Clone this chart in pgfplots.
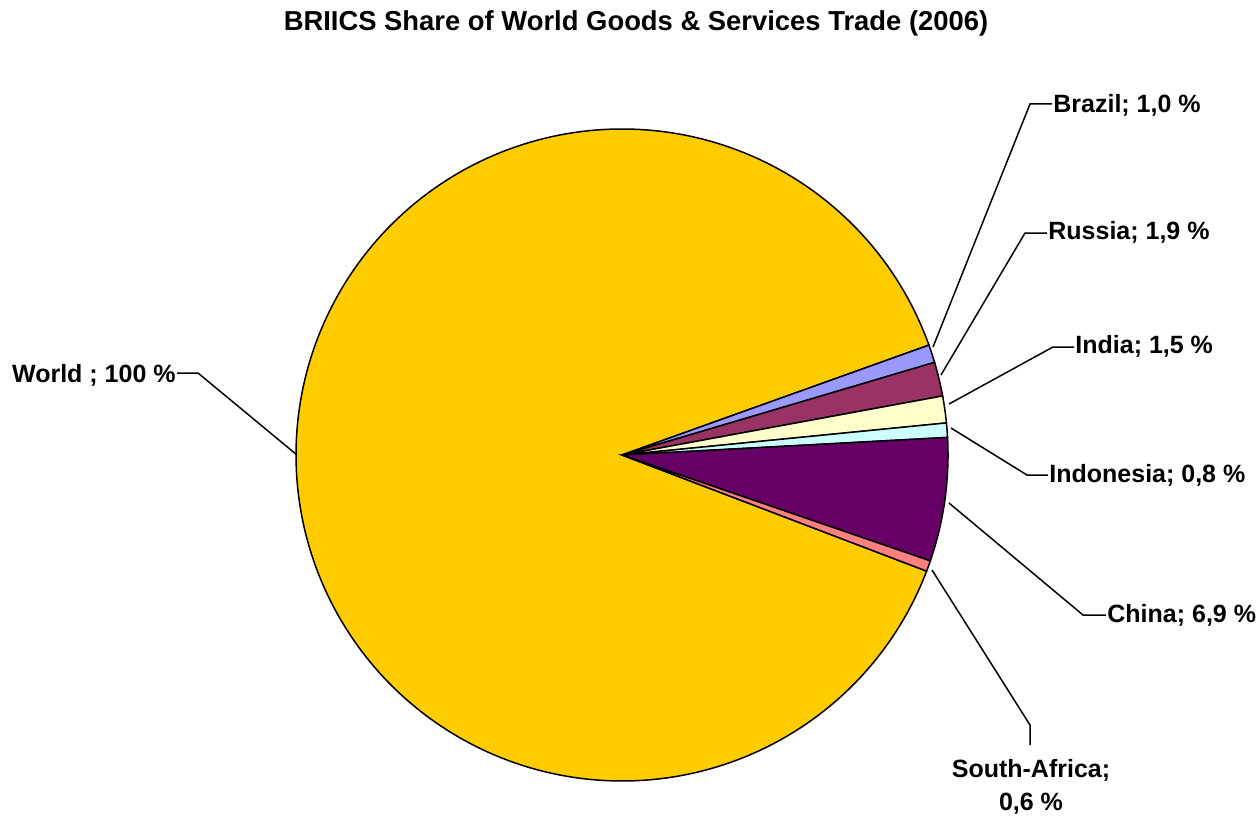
\documentclass[border=0pt]{standalone}
\usepackage{pgfplots}
\pgfplotsset{compat=1.18}
\usepgfplotslibrary{polar}
\usepackage{fontspec}
\setmainfont{Liberation Sans}
\definecolor{cWorld}{HTML}{FFCC00}
\definecolor{cBrazil}{HTML}{9999FF}
\definecolor{cRussia}{HTML}{993366}
\definecolor{cIndia}{HTML}{FFFFCC}
\definecolor{cIndonesia}{HTML}{CCFFFF}
\definecolor{cChina}{HTML}{660066}
\definecolor{cSA}{HTML}{FF8080}
% data (share of world goods & services trade, %)
\def\vWorld{100}
\def\vBrazil{1.0}
\def\vRussia{1.9}
\def\vIndia{1.5}
\def\vIndonesia{0.8}
\def\vChina{6.9}
\def\vSA{0.6}
\def\sAng{19.7}
\begin{document}
\begin{tikzpicture}[x=0.5pt,y=0.5pt]
\path (0,0) rectangle (1259,816);
\pgfmathsetmacro\k{360/(\vWorld+\vBrazil+\vRussia+\vIndia+\vIndonesia+\vChina+\vSA)}
\pgfmathsetmacro\aWorld{\sAng+\vWorld*\k}
\pgfmathsetmacro\aBrazil{\sAng-\vBrazil*\k}
\pgfmathsetmacro\aRussia{\aBrazil-\vRussia*\k}
\pgfmathsetmacro\aIndia{\aRussia-\vIndia*\k}
\pgfmathsetmacro\aIndonesia{\aIndia-\vIndonesia*\k}
\pgfmathsetmacro\aChina{\aIndonesia-\vChina*\k}
\pgfmathsetmacro\aSA{\aChina-\vSA*\k}
\begin{polaraxis}[at={(622,361)}, anchor=center, width=326pt, height=326pt,
  scale only axis, hide axis, clip=false, xmin=0, xmax=360, ymin=0, ymax=326]
\addplot[fill=cWorld, draw=black, line width=0.75pt, domain=\sAng:\aWorld, samples=240] {326} -- (axis cs:0,0) -- cycle;
\addplot[fill=cBrazil, draw=black, line width=0.75pt, domain=\aBrazil:\sAng, samples=8] {326} -- (axis cs:0,0) -- cycle;
\addplot[fill=cRussia, draw=black, line width=0.75pt, domain=\aRussia:\aBrazil, samples=10] {326} -- (axis cs:0,0) -- cycle;
\addplot[fill=cIndia, draw=black, line width=0.75pt, domain=\aIndia:\aRussia, samples=10] {326} -- (axis cs:0,0) -- cycle;
\addplot[fill=cIndonesia, draw=black, line width=0.75pt, domain=\aIndonesia:\aIndia, samples=8] {326} -- (axis cs:0,0) -- cycle;
\addplot[fill=cChina, draw=black, line width=0.75pt, domain=\aChina:\aIndonesia, samples=30] {326} -- (axis cs:0,0) -- cycle;
\addplot[fill=cSA, draw=black, line width=0.75pt, domain=\aSA:\aChina, samples=8] {326} -- (axis cs:0,0) -- cycle;
\end{polaraxis}
\tikzset{lbl/.style={inner sep=0pt, font=\fontsize{12.5}{15}\selectfont\bfseries}}
\node[anchor=base, inner sep=0pt, font=\fontsize{13.7}{16}\selectfont\bfseries] at (636,785) {BRIICS Share of World Goods \& Services Trade (2006)};
\draw[line width=0.75pt] (1052,712) -- (1030,712) -- (933,469);
\node[lbl, anchor=base west] at (1053,704) {Brazil; 1,0 \%};
\draw[line width=0.75pt] (1047,583) -- (1025,583) -- (941,441);
\node[lbl, anchor=base west] at (1048,577) {Russia; 1,9 \%};
\draw[line width=0.75pt] (1074,469) -- (1053,469) -- (949,412);
\node[lbl, anchor=base west] at (1075,463) {India; 1,5 \%};
\draw[line width=0.75pt] (1048,341) -- (1027,341) -- (951,388);
\node[lbl, anchor=base west] at (1049,334) {Indonesia; 0,8 \%};
\draw[line width=0.75pt] (1106,201) -- (1083,201) -- (949,313);
\node[lbl, anchor=base west] at (1107,194) {China; 6,9 \%};
\draw[line width=0.75pt] (932,246) -- (1030,91) -- (1030,71);
\node[lbl, anchor=base] at (1031,39) {South-Africa;};
\node[lbl, anchor=base] at (1031,6) {0,6 \%};
\draw[line width=0.75pt] (177,443) -- (198,443) -- (297,361);
\node[lbl, anchor=base east] at (176,434) {World ; 100 \%};
\end{tikzpicture}
\end{document}
